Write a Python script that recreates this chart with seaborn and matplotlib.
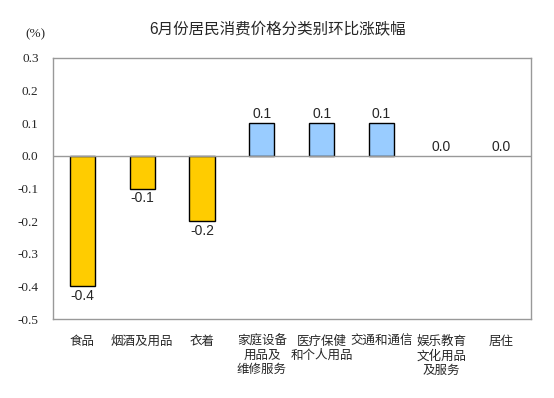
import numpy as np
import pandas as pd
import matplotlib
matplotlib.use('Agg')
import matplotlib.pyplot as plt
import seaborn as sns

# categories and month-on-month change (%)
categories = ['食品', '烟酒及用品', '衣着', '家庭设备\n用品及\n维修服务',
              '医疗保健\n和个人用品', '交通和通信', '娱乐教育\n文化用品\n及服务', '居住']
values = [-0.4, -0.1, -0.2, 0.1, 0.1, 0.1, 0.0, 0.0]
y_ticks = [-0.5, -0.4, -0.3, -0.2, -0.1, 0.0, 0.1, 0.2, 0.3]

sns.set_style('white')
plt.rcParams['font.family'] = ['Liberation Sans', 'Noto Sans CJK SC', 'DejaVu Sans']

df = pd.DataFrame({'cat': categories, 'val': values})
df['sign'] = np.where(df['val'] < 0, 'down', 'up')

fig = plt.figure(figsize=(5.54, 3.98), dpi=100)
ax = fig.add_axes([52.5 / 554, 1 - 319 / 398, (531 - 52.5) / 554, (319 - 58) / 398])

sns.barplot(data=df, x='cat', y='val', hue='sign', dodge=False, width=0.42,
            palette={'down': '#FFCC00', 'up': '#99CCFF'}, saturation=1,
            edgecolor='black', linewidth=1, legend=False, ax=ax)

# zero-height bars show nothing in the original
for p in ax.patches:
    if abs(p.get_height()) < 1e-9:
        p.set_visible(False)

ax.axhline(0, color='#999999', lw=1, zorder=3)
ax.set_xlim(-0.5, len(categories) - 0.5)
ax.set_ylim(-0.5, 0.3)
ax.set_yticks(y_ticks)
ax.set_yticklabels([f'{t:.1f}' for t in y_ticks], fontsize=9.5, family='Liberation Serif')
ax.set_xlabel('')
ax.set_ylabel('')
ax.tick_params(axis='y', direction='in', length=4, color='#999999', pad=10)
ax.tick_params(axis='x', length=0, pad=12, labelsize=9)
for lbl in ax.get_xticklabels():
    lbl.set_linespacing(1.25)
    lbl.set_verticalalignment('top')
for s in ax.spines.values():
    s.set_color('#999999')
    s.set_linewidth(1)

for i, v in enumerate(values):
    if v < 0:
        ax.text(i, v - 0.008, f'{v:.1f}', ha='center', va='top', fontsize=10)
    else:
        ax.text(i, v + 0.006, f'{v:.1f}', ha='center', va='bottom', fontsize=10)

fig.text(278 / 554, 1 - 30 / 398, '6月份居民消费价格分类别环比涨跌幅',
         ha='center', va='center', fontsize=11.2)
fig.text(35 / 554, 1 - 34 / 398, '(%)', ha='center', va='center', fontsize=9.5,
         family='Liberation Serif')

fig.savefig('out.png', dpi=100)
